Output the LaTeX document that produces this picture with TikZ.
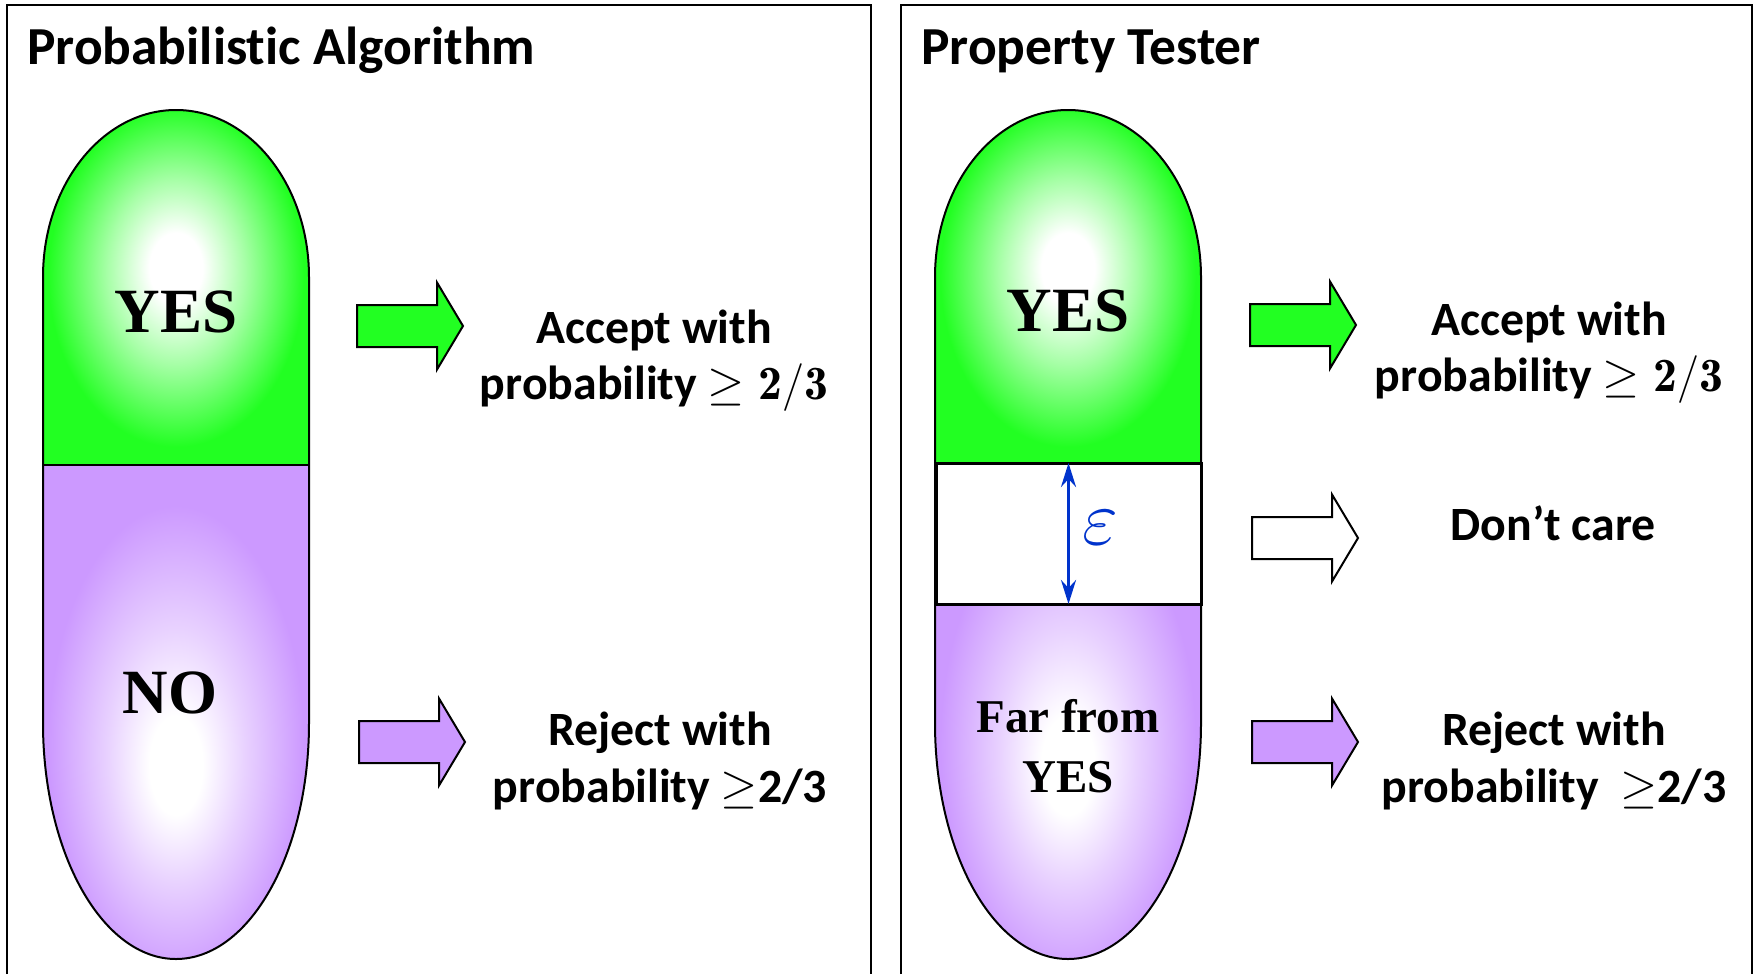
\documentclass[tikz,border=0pt]{standalone}
\usepackage{fix-cm}
\usepackage{fontspec}
\usetikzlibrary{arrows.meta}

\newfontfamily\calibrifont{Carlito}[Ligatures=NoCommon]
\newfontfamily\timesfont{Liberation Serif}

\definecolor{pillgreen}{RGB}{34,255,34}
\definecolor{pillpurple}{RGB}{204,153,255}
\definecolor{epsblue}{RGB}{0,51,204}

% glowing fills: white core fading to the pill colour
\pgfdeclareradialshading{greenglow}{\pgfpoint{0bp}{3bp}}{color(0bp)=(white); color(5bp)=(white); color(13bp)=(pillgreen!40!white); color(24bp)=(pillgreen); color(50bp)=(pillgreen)}
\pgfdeclareradialshading{purpleglow}{\pgfpoint{0bp}{-6bp}}{color(0bp)=(white); color(5bp)=(white); color(13bp)=(pillpurple!45!white); color(24bp)=(pillpurple); color(50bp)=(pillpurple)}

\tikzset{
  panel/.style={draw=black, line width=1.5pt},
  pilledge/.style={draw=black, line width=2pt},
  arrowbody/.style={draw=black, line width=2pt, line join=miter},
  heading/.style={inner sep=0pt, anchor=base west, font=\calibrifont\bfseries\fontsize{53.5}{60}\selectfont},
  lbl/.style={inner sep=0pt, anchor=base, font=\calibrifont\bfseries\fontsize{47.8}{56}\selectfont},
  pilltext/.style={inner sep=0pt, anchor=base, font=\timesfont\bfseries\fontsize{63}{70}\selectfont},
  smallpilltext/.style={inner sep=0pt, anchor=base, font=\timesfont\bfseries\fontsize{47}{60}\selectfont},
  epsarrow/.style={draw=epsblue, line width=3pt, {Stealth[length=24pt,width=15pt,inset=8pt]}-{Stealth[length=24pt,width=15pt,inset=8pt]}},
  pics/blockarrow/.style={code={
    \path[arrowbody,#1] (0,-21) -- (80,-21) -- (80,-43.5) -- (106,0)
      -- (80,43.5) -- (80,21) -- (0,21) -- cycle;}},
  pics/pill/.style={code={
    \shade[shading=greenglow] (-133,465) -- (-133,277)
      arc[start angle=180, end angle=0, x radius=133pt, y radius=167pt]
      -- (133,465) -- cycle;
    \shade[shading=purpleglow] (-133,465) -- (133,465) -- (133,723)
      arc[start angle=0, end angle=-180, x radius=133pt, y radius=236pt]
      -- cycle;
    \draw[pilledge] (-133,465) -- (133,465);
    \draw[pilledge] (-133,277)
      arc[start angle=180, end angle=0, x radius=133pt, y radius=167pt]
      -- (133,723)
      arc[start angle=0, end angle=-180, x radius=133pt, y radius=236pt]
      -- cycle;}},
}

\begin{document}
\begin{tikzpicture}[x=1pt, y=-1pt]
\useasboundingbox (0,0) rectangle (1758,974);

% two panels, open at the bottom
\draw[panel] (7,974) -- (7,5) -- (871,5) -- (871,974);
\draw[panel] (901,974) -- (901,5) -- (1752,5) -- (1752,974);

\node[heading] (titleL) at (27,65) {Probabilistic Algorithm};
\node[heading] (titleR) at (921,65) {Property Tester};

% ---- left panel ----
\pic (pillL) at (176,0) {pill};
\node[pilltext] (yesL) at (176,332) {YES};
\node[pilltext] (noL) at (170,713) {NO};

\pic (accArrL) at (357,326) {blockarrow={fill=pillgreen}};
\pic (rejArrL) at (359,742) {blockarrow={fill=pillpurple}};

\node[lbl] (accL1) at (654,343) {Accept with};
\node[lbl] (accL2) at (654,399) {probability $\geq \mathbf{2/3}$};
\node[lbl] (rejL1) at (660,745) {Reject with};
\node[lbl] (rejL2) at (660,802) {probability $\geq$2/3};

% ---- right panel ----
\pic (pillR) at (1068,0) {pill};
\node[draw=black, line width=3pt, fill=white, outer sep=0pt, inner sep=0pt,
      minimum width=265pt, minimum height=141pt] (epsband) at (1068.5,533.5) {};
\draw[epsarrow] (epsband.north) -- (epsband.south);
\node[inner sep=0pt, text=epsblue, font=\fontsize{78}{80}\selectfont] (epslabel) at (1100,528) {$\varepsilon$};

\node[pilltext] (yesR) at (1068,331) {YES};
\node[smallpilltext] (farR1) at (1068,732) {Far from};
\node[smallpilltext] (farR2) at (1068,792) {YES};

\pic (accArrR) at (1250,325) {blockarrow={fill=pillgreen}};
\pic (dcArrR) at (1252,538) {blockarrow={fill=white}};
\pic (rejArrR) at (1252,742) {blockarrow={fill=pillpurple}};

\node[lbl] (accR1) at (1549,335) {Accept with};
\node[lbl] (accR2) at (1549,391) {probability $\geq \mathbf{2/3}$};
\node[lbl] (dcR) at (1553,540) {Don’t care};
\node[lbl] (rejR1) at (1554,745) {Reject with};
\node[lbl] (rejR2) at (1554,802) {probability\ \ $\geq$2/3};
\end{tikzpicture}
\end{document}
